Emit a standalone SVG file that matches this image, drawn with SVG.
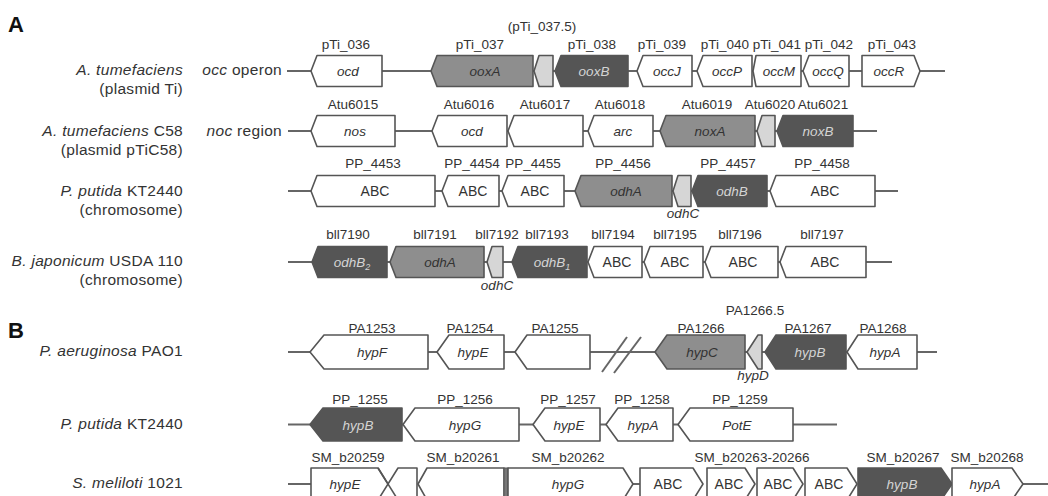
<svg xmlns="http://www.w3.org/2000/svg" width="1048" height="496" viewBox="0 0 1048 496">
<style>
text{font-family:"Liberation Sans",Arial,sans-serif;fill:#333}
.sp{font-size:15.5px;letter-spacing:0.3px;text-anchor:end}
.i{font-style:italic}
.lab{font-size:13.5px;text-anchor:middle}
.gt{font-size:13.5px;text-anchor:middle;font-style:italic}
.gl{fill:#d4d4d4}
.ab{font-size:14px;text-anchor:middle}
.hd{font-size:22px;font-weight:bold;fill:#111}
polygon,.e{stroke:#555;stroke-width:1.6;stroke-linejoin:round}
.w{fill:#fff}.m{fill:#8e8e8e}.d{fill:#555}.l{fill:#d6d6d6}
.bb{stroke:#666;stroke-width:2;fill:none}
</style>
<rect width="1048" height="496" fill="#fff"/>
<text class="hd" x="8" y="32">A</text>
<text class="hd" x="8" y="338">B</text>
<g id="species">
<text class="sp" x="183" y="75"><tspan class="i">A. tumefaciens</tspan></text>
<text class="sp" x="183" y="94">(plasmid Ti)</text>
<text class="sp" x="282" y="75"><tspan class="i">occ</tspan> operon</text>
<text class="sp" x="183" y="136"><tspan class="i">A. tumefaciens</tspan> C58</text>
<text class="sp" x="183" y="155">(plasmid pTiC58)</text>
<text class="sp" x="282" y="136"><tspan class="i">noc</tspan> region</text>
<text class="sp" x="183" y="196"><tspan class="i">P. putida</tspan> KT2440</text>
<text class="sp" x="183" y="215">(chromosome)</text>
<text class="sp" x="183" y="266"><tspan class="i">B. japonicum</tspan> USDA 110</text>
<text class="sp" x="183" y="285">(chromosome)</text>
<text class="sp" x="183" y="356"><tspan class="i">P. aeruginosa</tspan> PAO1</text>
<text class="sp" x="183" y="429"><tspan class="i">P. putida</tspan> KT2440</text>
<text class="sp" x="183" y="488"><tspan class="i">S. meliloti</tspan> 1021</text>
</g>
<g id="connectors">
<line class="bb" x1="287" y1="71" x2="945" y2="71"/>
<line class="bb" x1="288" y1="131" x2="877" y2="131"/>
<line class="bb" x1="288" y1="191" x2="898" y2="191"/>
<line class="bb" x1="288" y1="262" x2="892" y2="262"/>
<line class="bb" x1="288" y1="352" x2="937" y2="352"/>
<line class="bb" x1="602" y1="372" x2="627" y2="337"/>
<line class="bb" x1="614" y1="373" x2="641" y2="337"/>
<line class="bb" x1="288" y1="424.5" x2="837" y2="424.5"/>
<line class="bb" x1="288" y1="484" x2="311" y2="484"/>
<line class="bb" x1="633" y1="484" x2="640" y2="484"/>
<line class="bb" x1="1023" y1="484" x2="1048" y2="484"/>
</g>
<g id="row-occ">
<g id="pTi_036"><polygon class="w" points="311,71 317,55.5 382,55.5 382,86.5 317,86.5"/><text class="gt" x="348" y="76">ocd</text><text class="lab" x="346" y="49">pTi_036</text></g>
<g id="pTi_037"><polygon class="m" points="431,71 437,55.5 533,55.5 533,86.5 437,86.5"/><text class="gt" x="485" y="76">ooxA</text><text class="lab" x="480" y="49">pTi_037</text></g>
<g id="pTi_037.5"><polygon class="l" points="534,71 539,55.5 553,55.5 553,86.5 539,86.5"/><text class="lab" x="542" y="31">(pTi_037.5)</text></g>
<g id="pTi_038"><polygon class="d" points="555,71 561,55.5 628,55.5 628,86.5 561,86.5"/><text class="gt gl" x="594" y="76">ooxB</text><text class="lab" x="592" y="49">pTi_038</text></g>
<g id="pTi_039"><polygon class="w" points="637,71 643,55.5 692,55.5 692,86.5 643,86.5"/><text class="gt" x="667" y="76">occJ</text><text class="lab" x="662" y="49">pTi_039</text></g>
<g id="pTi_040"><polygon class="w" points="697,71 703,55.5 752,55.5 752,86.5 703,86.5"/><text class="gt" x="727" y="76">occP</text><text class="lab" x="725" y="49">pTi_040</text></g>
<g id="pTi_041"><polygon class="w" points="753,71 756,55.5 801,55.5 801,86.5 756,86.5"/><text class="gt" x="779" y="76">occM</text><text class="lab" x="777" y="49">pTi_041</text></g>
<g id="pTi_042"><polygon class="w" points="803,71 809,55.5 849,55.5 849,86.5 809,86.5"/><text class="gt" x="828" y="76">occQ</text><text class="lab" x="829" y="49">pTi_042</text></g>
<g id="pTi_043"><polygon class="w" points="862,55.5 914,55.5 920,71 914,86.5 862,86.5"/><text class="gt" x="889" y="76">occR</text><text class="lab" x="892" y="49">pTi_043</text></g>
</g>
<g id="row-noc">
<g id="Atu6015"><polygon class="w" points="311,131 317,115.5 395,115.5 395,146.5 317,146.5"/><text class="gt" x="355" y="136">nos</text><text class="lab" x="353" y="109">Atu6015</text></g>
<g id="Atu6016"><polygon class="w" points="432,131 438,115.5 507,115.5 507,146.5 438,146.5"/><text class="gt" x="472" y="136">ocd</text><text class="lab" x="469" y="109">Atu6016</text></g>
<g id="Atu6017"><polygon class="w" points="508,131 514,115.5 583,115.5 583,146.5 514,146.5"/><text class="lab" x="545" y="109">Atu6017</text></g>
<g id="Atu6018"><polygon class="w" points="588,131 594,115.5 653,115.5 653,146.5 594,146.5"/><text class="gt" x="623" y="136">arc</text><text class="lab" x="620" y="109">Atu6018</text></g>
<g id="Atu6019"><polygon class="m" points="660,131 666,115.5 755,115.5 755,146.5 666,146.5"/><text class="gt" x="710" y="136">noxA</text><text class="lab" x="707" y="109">Atu6019</text></g>
<g id="Atu6020"><polygon class="l" points="757,131 762,115.5 775,115.5 775,146.5 762,146.5"/><text class="lab" x="770" y="109">Atu6020</text></g>
<g id="Atu6021"><polygon class="d" points="777,131 783,115.5 853,115.5 853,146.5 783,146.5"/><text class="gt gl" x="818" y="136">noxB</text><text class="lab" x="823" y="109">Atu6021</text></g>
</g>
<g id="row-pputida-odh">
<g id="PP_4453"><polygon class="w" points="311,191 317,175.5 435,175.5 435,206.5 317,206.5"/><text class="ab" x="375" y="196">ABC</text><text class="lab" x="373" y="168">PP_4453</text></g>
<g id="PP_4454"><polygon class="w" points="442,191 448,175.5 499,175.5 499,206.5 448,206.5"/><text class="ab" x="473" y="196">ABC</text><text class="lab" x="472" y="168">PP_4454</text></g>
<g id="PP_4455"><polygon class="w" points="502,191 508,175.5 564,175.5 564,206.5 508,206.5"/><text class="ab" x="535" y="196">ABC</text><text class="lab" x="533" y="168">PP_4455</text></g>
<g id="PP_4456"><polygon class="m" points="575,191 581,175.5 672,175.5 672,206.5 581,206.5"/><text class="gt" x="626" y="196">odhA</text><text class="lab" x="623" y="168">PP_4456</text></g>
<g id="odhC-pp"><polygon class="l" points="673,191 678,175.5 691,175.5 691,206.5 678,206.5"/><text class="gt" x="683" y="218">odhC</text></g>
<g id="PP_4457"><polygon class="d" points="692,191 698,175.5 767,175.5 767,206.5 698,206.5"/><text class="gt gl" x="732" y="196">odhB</text><text class="lab" x="728" y="168">PP_4457</text></g>
<g id="PP_4458"><polygon class="w" points="770,191 776,175.5 875,175.5 875,206.5 776,206.5"/><text class="ab" x="825" y="196">ABC</text><text class="lab" x="822" y="168">PP_4458</text></g>
</g>
<g id="row-bjap">
<g id="bll7190"><polygon class="d" points="312,262 318,246.5 387,246.5 387,277.5 318,277.5"/><text class="gt gl" x="352" y="267">odhB<tspan font-size="9" dy="3">2</tspan></text><text class="lab" x="348" y="239">bll7190</text></g>
<g id="bll7191"><polygon class="m" points="390,262 396,246.5 484,246.5 484,277.5 396,277.5"/><text class="gt" x="440" y="267">odhA</text><text class="lab" x="435" y="239">bll7191</text></g>
<g id="bll7192"><polygon class="l" points="487,262 492,246.5 503,246.5 503,277.5 492,277.5"/><text class="lab" x="497" y="239">bll7192</text><text class="gt" x="497" y="290">odhC</text></g>
<g id="bll7193"><polygon class="d" points="512,262 518,246.5 587,246.5 587,277.5 518,277.5"/><text class="gt gl" x="552" y="267">odhB<tspan font-size="9" dy="3">1</tspan></text><text class="lab" x="547" y="239">bll7193</text></g>
<g id="bll7194"><polygon class="w" points="588,262 594,246.5 642,246.5 642,277.5 594,277.5"/><text class="ab" x="617" y="267">ABC</text><text class="lab" x="613" y="239">bll7194</text></g>
<g id="bll7195"><polygon class="w" points="644,262 650,246.5 703,246.5 703,277.5 650,277.5"/><text class="ab" x="675" y="267">ABC</text><text class="lab" x="675" y="239">bll7195</text></g>
<g id="bll7196"><polygon class="w" points="705,262 711,246.5 778,246.5 778,277.5 711,277.5"/><text class="ab" x="743" y="267">ABC</text><text class="lab" x="740" y="239">bll7196</text></g>
<g id="bll7197"><polygon class="w" points="780,262 786,246.5 866,246.5 866,277.5 786,277.5"/><text class="ab" x="825" y="267">ABC</text><text class="lab" x="822" y="239">bll7197</text></g>
</g>
<g id="row-paer">
<g id="PA1253"><polygon class="w" points="310,352 324,335 428,335 428,369 324,369"/><text class="gt" x="372" y="357">hypF</text><text class="lab" x="372" y="333">PA1253</text></g>
<g id="PA1254"><polygon class="w" points="437,352 449,335 504,335 504,369 449,369"/><text class="gt" x="473" y="357">hypE</text><text class="lab" x="470" y="333">PA1254</text></g>
<g id="PA1255"><polygon class="w" points="515,352 527,335 590,335 590,369 527,369"/><text class="lab" x="555" y="333">PA1255</text></g>
<g id="PA1266"><polygon class="m" points="655,352 667,335 745,335 745,369 667,369"/><text class="gt" x="702" y="357">hypC</text><text class="lab" x="701" y="333">PA1266</text></g>
<g id="PA1266.5"><polygon class="l" points="747,352 758,335 762,335 762,369 758,369"/><text class="lab" x="755" y="315">PA1266.5</text><text class="gt" x="753" y="380">hypD</text></g>
<g id="PA1267"><polygon class="d" points="765,352 776,335 846,335 846,369 776,369"/><text class="gt gl" x="810" y="357">hypB</text><text class="lab" x="808" y="333">PA1267</text></g>
<g id="PA1268"><polygon class="w" points="847,352 858,335 917,335 917,369 858,369"/><text class="gt" x="885" y="357">hypA</text><text class="lab" x="883" y="333">PA1268</text></g>
</g>
<g id="row-pputida-hyp">
<g id="PP_1255"><polygon class="d" points="310,424.5 323,408 402,408 402,441 323,441"/><text class="gt gl" x="358" y="429.5">hypB</text><text class="lab" x="360" y="404">PP_1255</text></g>
<g id="PP_1256"><polygon class="w" points="403,424.5 415,408 519,408 519,441 415,441"/><text class="gt" x="465" y="429.5">hypG</text><text class="lab" x="465" y="404">PP_1256</text></g>
<g id="PP_1257"><polygon class="w" points="533,424.5 545,408 600,408 600,441 545,441"/><text class="gt" x="569" y="429.5">hypE</text><text class="lab" x="568" y="404">PP_1257</text></g>
<g id="PP_1258"><polygon class="w" points="606,424.5 618,408 673,408 673,441 618,441"/><text class="gt" x="643" y="429.5">hypA</text><text class="lab" x="642" y="404">PP_1258</text></g>
<g id="PP_1259"><polygon class="w" points="678,424.5 690,408 793,408 793,441 690,441"/><text class="gt" x="737" y="429.5">PotE</text><text class="lab" x="740" y="404">PP_1259</text></g>
</g>
<g id="row-smel">
<g id="SM_b20259"><polygon class="w" points="311,468 378,468 398,500 311,500"/><text class="gt" x="345" y="489">hypE</text><text class="lab" x="348" y="462">SM_b20259</text></g>
<g id="SM_b20260"><polygon class="w" points="398,468 417,468 417,500 378,500"/><line class="e" x1="378" y1="468" x2="398" y2="500"/></g>
<g id="SM_b20261"><polygon class="w" points="418,484 427,468 504,468 504,500 427,500"/><text class="lab" x="463" y="462">SM_b20261</text></g>
<rect x="504" y="468" width="4" height="32" fill="#777" stroke="#555" stroke-width="1"/>
<g id="SM_b20262"><polygon class="w" points="508,468 623,468 633,484 623,500 508,500"/><text class="gt" x="568" y="489">hypG</text><text class="lab" x="568" y="462">SM_b20262</text></g>
<g id="SM_b20263-20266">
<polygon class="w" points="640,468 693,468 703,484 693,500 640,500"/><text class="ab" x="668" y="489">ABC</text>
<polygon class="w" points="707,468 745,468 755,484 745,500 707,500"/><text class="ab" x="729" y="489">ABC</text>
<polygon class="w" points="757,468 793,468 803,484 793,500 757,500"/><text class="ab" x="778" y="489">ABC</text>
<polygon class="w" points="805,468 847,468 857,484 847,500 805,500"/><text class="ab" x="829" y="489">ABC</text>
<text class="lab" x="752" y="462">SM_b20263-20266</text></g>
<g id="SM_b20267"><polygon class="d" points="858,468 941,468 952,484 941,500 858,500"/><text class="gt gl" x="902" y="489">hypB</text><text class="lab" x="903" y="462">SM_b20267</text></g>
<g id="SM_b20268"><polygon class="w" points="952,468 1012,468 1023,484 1012,500 952,500"/><text class="gt" x="985" y="489">hypA</text><text class="lab" x="987" y="462">SM_b20268</text></g>
</g>
</svg>
